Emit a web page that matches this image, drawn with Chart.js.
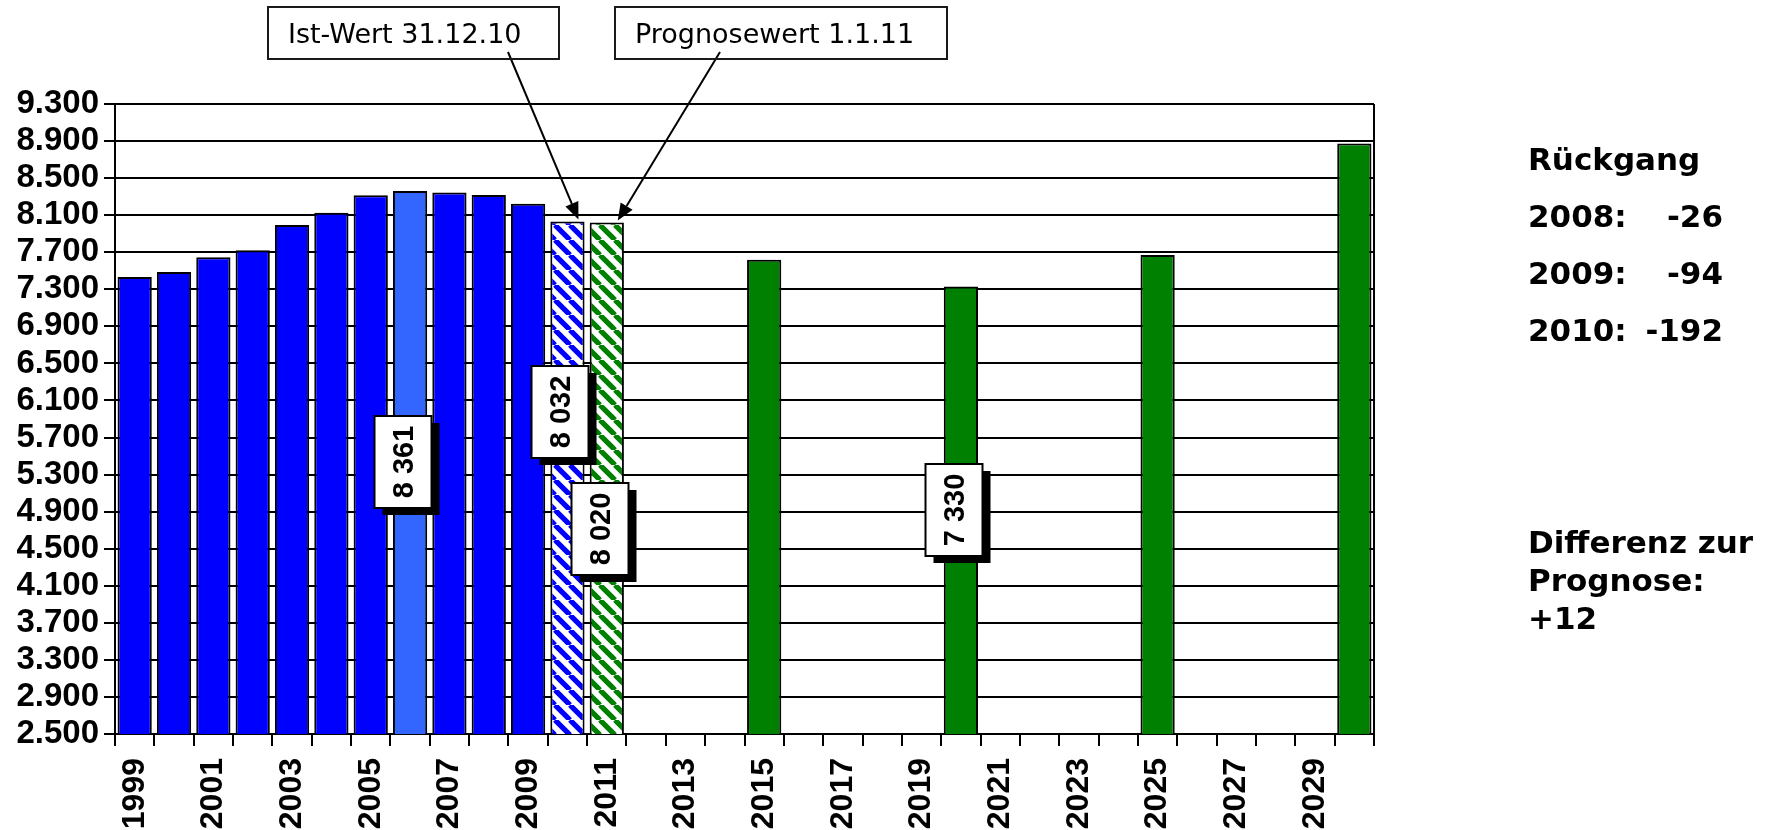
<!DOCTYPE html>
<html>
<head>
<meta charset="utf-8">
<script src="https://cdn.jsdelivr.net/npm/chart.js@4/dist/chart.umd.min.js"></script>
<style>
  body { margin: 0; background: #fff; }
  #wrap { position: relative; width: 1779px; height: 830px; }
  .call {
    position: absolute; box-sizing: border-box; height: 54px; top: 6px;
    border: 2px solid #1a1a1a; padding-left: 19px;
    display: flex; align-items: center;
    font: 27px "DejaVu Sans", Verdana, sans-serif; color: #000; white-space: nowrap;
  }
  .note {
    position: absolute; left: 1528px;
    font: bold 31px "DejaVu Sans", Verdana, sans-serif; color: #000; white-space: nowrap;
  }
  .row { display: flex; justify-content: space-between; width: 195px; }
</style>
</head>
<body>
<div id="wrap">
  <canvas id="chart" width="1779" height="830"></canvas>
  <div class="call" style="left:267px;width:293px">Ist-Wert 31.12.10</div>
  <div class="call" style="left:614px;width:334px">Prognosewert 1.1.11</div>
  <div class="note" id="decline" style="top:131px;line-height:57px"></div>
  <div class="note" id="diff" style="top:523px;line-height:38px"></div>
</div>
<script>
// categories (years on the x axis)
const years = ['1999', '2000', '2001', '2002', '2003', '2004', '2005', '2006', '2007', '2008',
  '2009', '2010', '2011', '2012', '2013', '2014', '2015', '2016', '2017', '2018', '2019', '2020',
  '2021', '2022', '2023', '2024', '2025', '2026', '2027', '2028', '2029', '2030']

// Ist-Werte (inhabitants) up to 31.12.2010
const istWerte = [7432, 7486, 7646, 7721, 7993, 8125, 8314, 8361, 8344, 8318, 8224, 8032, null,
  null, null, null, null, null, null, null, null, null,
  null, null, null, null, null, null, null, null, null, null]

// Prognose values from 1.1.2011
const prognose = [null, null, null, null, null, null, null, null, null, null, null, null, 8020,
  null, null, null, 7620, null, null, null, null, 7330,
  null, null, null, null, 7670, null, null, null, null, 8874]

// y axis
const Y_MIN = 2500
const Y_MAX = 9300
const Y_STEP = 400

// years shown in the "Rückgang" note
const declineYears = ['2008', '2009', '2010']

// boxed value labels: dataset, year, height on the value axis where the box sits
const boxLabels = [
  { ds: 0, year: '2006', at: 5440 },
  { ds: 0, year: '2010', at: 5980 },
  { ds: 1, year: '2011', at: 4710 },
  { ds: 1, year: '2020', at: 4920 }
]

// arrows from the callout boxes to the bars
const arrows = [
  { ds: 0, year: '2010', from: [508, 52] },
  { ds: 1, year: '2011', from: [720, 52] }
]

const BLUE = '#0000ff'
const LIGHT_BLUE = '#3366ff'
const GREEN = '#008000'
const TICK_FONT = '"Liberation Sans", Arial, sans-serif'

const group = (v, sep) => String(v).replace(/\B(?=(\d{3})+(?!\d))/g, sep)

function hatch(color) {
  const s = 15
  const c = document.createElement('canvas')
  c.width = s
  c.height = s
  const g = c.getContext('2d')
  g.fillStyle = '#fff'
  g.fillRect(0, 0, s, s)
  g.strokeStyle = color
  g.lineWidth = 5.2
  g.beginPath()
  for (let k = -1; k <= 1; k++) {
    g.moveTo(k * s, 0)
    g.lineTo(k * s + s, s)
  }
  g.stroke()
  return g.createPattern(c, 'repeat')
}

const blueHatch = hatch(BLUE)
const greenHatch = hatch(GREEN)

// side notes, computed from the series
const declineEl = document.getElementById('decline')
declineEl.innerHTML = '<div>Rückgang</div>' + declineYears.map(yr => {
  const i = years.indexOf(yr)
  const d = istWerte[i] - istWerte[i - 1]
  return '<div class="row"><span>' + yr + ':</span><span>' + (d > 0 ? '+' : '-') + Math.abs(d) + '</span></div>'
}).join('')

const iLast = years.indexOf('2010')
const iProg = years.indexOf('2011')
const diff = istWerte[iLast] - prognose[iProg]
document.getElementById('diff').innerHTML =
  'Differenz zur<br>Prognose:<br>' + (diff >= 0 ? '+' : '') + diff

const overlay = {
  id: 'overlay',
  afterDatasetsDraw(chart) {
    const ctx = chart.ctx
    const area = chart.chartArea
    const yScale = chart.scales.y
    ctx.save()

    // right frame line
    ctx.strokeStyle = '#000'
    ctx.lineWidth = 2
    ctx.beginPath()
    ctx.moveTo(Math.round(area.right), area.top)
    ctx.lineTo(Math.round(area.right), area.bottom)
    ctx.stroke()

    // value boxes with shadow
    boxLabels.forEach(b => {
      const i = years.indexOf(b.year)
      const bar = chart.getDatasetMeta(b.ds).data[i]
      const v = chart.data.datasets[b.ds].data[i]
      const w = 57, h = 92
      const cx = Math.round(bar.x - 7)
      const cy = Math.round(yScale.getPixelForValue(b.at))
      ctx.fillStyle = '#000'
      ctx.fillRect(cx - w / 2 + 8, cy - h / 2 + 7, w, h)
      ctx.fillStyle = '#fff'
      ctx.fillRect(cx - w / 2, cy - h / 2, w, h)
      ctx.lineWidth = 2
      ctx.strokeStyle = '#000'
      ctx.strokeRect(cx - w / 2, cy - h / 2, w, h)
      ctx.save()
      ctx.translate(cx + 1, cy)
      ctx.rotate(-Math.PI / 2)
      ctx.fillStyle = '#000'
      ctx.font = 'bold 29px ' + TICK_FONT
      ctx.textAlign = 'center'
      ctx.textBaseline = 'middle'
      ctx.fillText(group(v, ' '), 0, 1)
      ctx.restore()
    })

    // arrows
    arrows.forEach(a => {
      const i = years.indexOf(a.year)
      const bar = chart.getDatasetMeta(a.ds).data[i]
      const tx = bar.x + 11
      const ty = bar.y - 2
      const [fx, fy] = a.from
      const ang = Math.atan2(ty - fy, tx - fx)
      const len = 17, half = 7
      ctx.strokeStyle = '#000'
      ctx.fillStyle = '#000'
      ctx.lineWidth = 2
      ctx.beginPath()
      ctx.moveTo(fx, fy)
      ctx.lineTo(tx - Math.cos(ang) * len, ty - Math.sin(ang) * len)
      ctx.stroke()
      ctx.beginPath()
      ctx.moveTo(tx, ty)
      ctx.lineTo(tx - Math.cos(ang) * len - Math.sin(ang) * half, ty - Math.sin(ang) * len + Math.cos(ang) * half)
      ctx.lineTo(tx - Math.cos(ang) * len + Math.sin(ang) * half, ty - Math.sin(ang) * len - Math.cos(ang) * half)
      ctx.closePath()
      ctx.fill()
    })

    ctx.restore()
  }
}

Chart.defaults.color = '#000'

new Chart(document.getElementById('chart'), {
  type: 'bar',
  data: {
    labels: years,
    datasets: [
      {
        label: 'Ist-Wert',
        data: istWerte,
        backgroundColor: c => {
          const yr = years[c.dataIndex]
          if (yr === '2006') return LIGHT_BLUE
          if (yr === '2010') return blueHatch
          return BLUE
        }
      },
      {
        label: 'Prognose',
        data: prognose,
        backgroundColor: c => years[c.dataIndex] === '2011' ? greenHatch : GREEN
      }
    ]
  },
  options: {
    responsive: false,
    animation: false,
    layout: { padding: { top: 104, right: 405, bottom: 0, left: 0 } },
    plugins: {
      legend: { display: false },
      tooltip: { enabled: false }
    },
    datasets: {
      bar: {
        barPercentage: 0.87,
        categoryPercentage: 1,
        borderWidth: 2,
        borderColor: '#000',
        skipNull: true
      }
    },
    scales: {
      x: {
        grid: { offset: true, drawOnChartArea: false, color: '#000', lineWidth: 2, tickLength: 12 },
        border: { color: '#000', width: 2 },
        ticks: {
          autoSkip: false,
          minRotation: 90,
          maxRotation: 90,
          padding: 12,
          font: { family: TICK_FONT, size: 32, weight: 'bold' },
          callback: (v, i) => i % 2 === 0 ? years[i] : ''
        },
        afterFit: s => { s.height = 96 }
      },
      y: {
        min: Y_MIN,
        max: Y_MAX,
        grid: { color: '#000', lineWidth: 2, tickLength: 11 },
        border: { color: '#000', width: 2 },
        ticks: {
          autoSkip: false,
          stepSize: Y_STEP,
          padding: 5,
          font: { family: TICK_FONT, size: 33, weight: 'bold' },
          callback: v => group(v, '.')
        },
        afterFit: s => { s.width = 115 }
      }
    }
  },
  plugins: [overlay]
})
</script>
</body>
</html>
